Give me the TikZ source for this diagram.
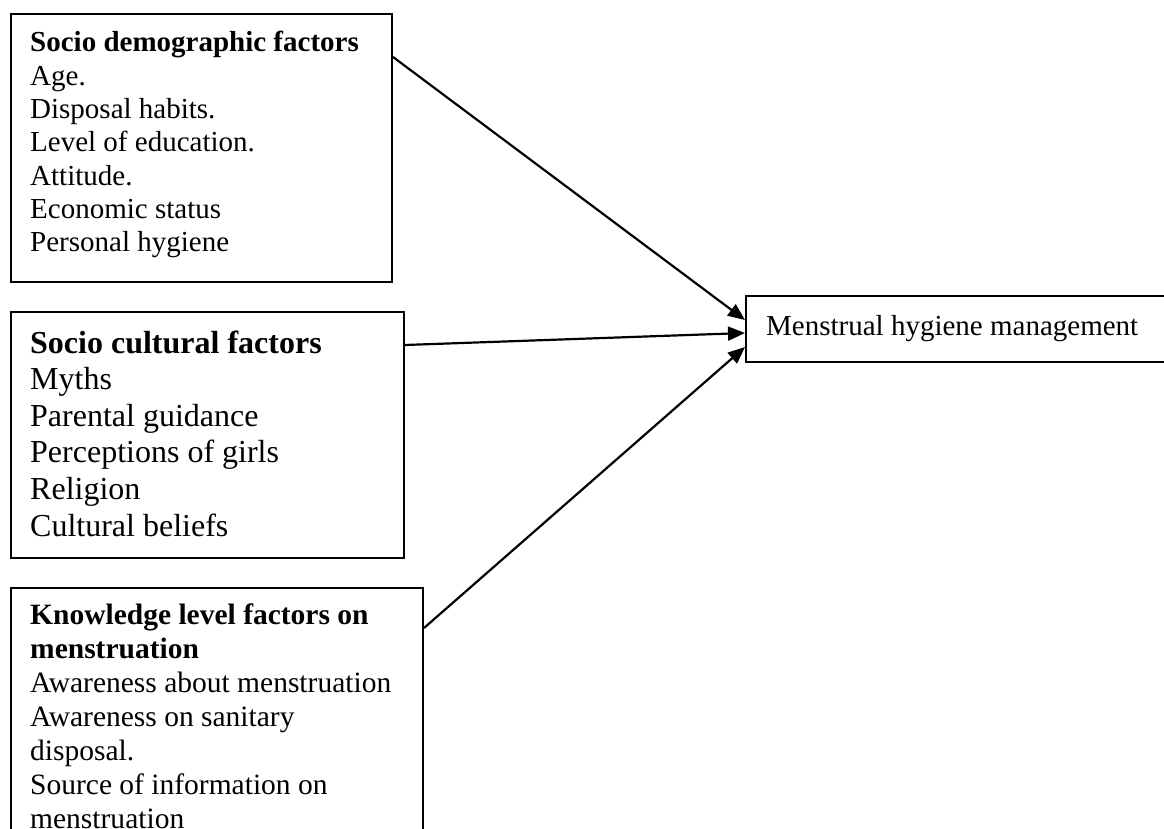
\documentclass[tikz,border=0pt]{standalone}
\usepackage{fontspec}
\setmainfont{Liberation Serif}
\usetikzlibrary{arrows.meta}
\tikzset{
  box/.style={draw, line width=2pt, rectangle, inner sep=0pt, anchor=north west},
  txt/.style={anchor=base west, inner sep=0pt},
  conn/.style={line width=2.2pt, -{Triangle[length=17pt,width=14pt]}},
}
\begin{document}
\begin{tikzpicture}[x=1pt,y=-1pt]
\useasboundingbox (0,0) rectangle (1164,829);
\clip (0,0) rectangle (1164,829);
\node[box, minimum width=381pt, minimum height=268pt] (sd) at (10,13) {};
\node[box, minimum width=393pt, minimum height=246pt] (sc) at (10,311) {};
\node[box, minimum width=412pt, minimum height=320pt] (kl) at (10,587) {};
\node[box, minimum width=560pt, minimum height=66pt] (mhm) at (745,295) {};

\node[txt] (sdt) at (30,52) {\fontsize{29}{33.3}\selectfont\begin{tabular}[t]{@{}l@{}}\textbf{Socio demographic factors}\\Age.\\Disposal habits.\\Level of education.\\Attitude.\\Economic status\\Personal hygiene\end{tabular}};
\node[txt] (sct) at (30,353) {\fontsize{32}{36.6}\selectfont\begin{tabular}[t]{@{}l@{}}\textbf{Socio cultural factors}\\Myths\\Parental guidance\\Perceptions of girls\\Religion\\Cultural beliefs\end{tabular}};
\node[txt] (klt) at (30,624) {\fontsize{29.5}{34}\selectfont\begin{tabular}[t]{@{}l@{}}\textbf{Knowledge level factors on}\\\textbf{menstruation}\\Awareness about menstruation\\Awareness on sanitary\\disposal.\\Source of information on\\menstruation\end{tabular}};
\node[txt] (mhmt) at (766,335) {\fontsize{29}{33.3}\selectfont Menstrual hygiene management};

\draw[conn] ([yshift=-44pt]sd.north east) -- ([yshift=-25pt]mhm.north west);
\draw[conn] ([yshift=-34pt]sc.north east) -- ([yshift=-38pt]mhm.north west);
\draw[conn] ([yshift=-41pt]kl.north east) -- ([yshift=-52pt]mhm.north west);
\end{tikzpicture}
\end{document}
